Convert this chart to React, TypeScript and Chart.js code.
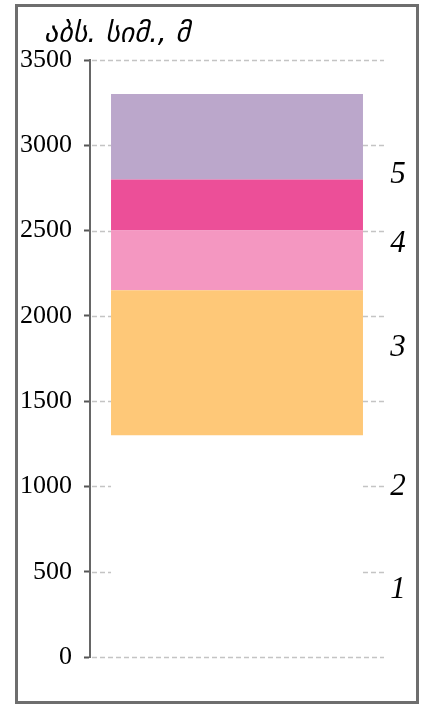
import React, { useEffect, useRef } from 'react';
import { Chart, registerables } from 'chart.js';

Chart.register(...registerables);

// ---- data ----
const categories = [''];
const layerNames = ['3', '4 (ქვედა)', '4 (ზედა)', '5'];
const layerStarts = [1300, 2150, 2500, 2800];
const layerEnds = [2150, 2500, 2800, 3300];
const layerColors = ['#fec878', '#f497c1', '#ec4f98', '#bba7cb'];
const yMin = 0;
const yMax = 3500;
const yStep = 500;
const zoneLabels = ['1', '2', '3', '4', '5'];
const zoneLabelValues = [395, 1000, 1810, 2425, 2825];
const axisTitle = 'აბს. სიმ., მ';

const gridStubs = {
  id: 'gridStubs',
  beforeDatasetsDraw(chart: any) {
    const { ctx, chartArea, scales } = chart;
    const y = scales.y;
    const meta = chart.getDatasetMeta(0);
    const el = meta.data[0];
    const { x, width } = el.getProps(['x', 'width'], true);
    const bl = x - width / 2;
    const br = x + width / 2;
    ctx.save();
    ctx.setLineDash([5, 3]);
    ctx.strokeStyle = '#c4c4c4';
    ctx.lineWidth = 1.5;
    y.ticks.forEach((t: any, i: number) => {
      const py = Math.round(y.getPixelForValue(t.value)) + 0.5;
      ctx.beginPath();
      if (i === 0 || i === y.ticks.length - 1) {
        ctx.moveTo(chartArea.left + 2, py);
        ctx.lineTo(chartArea.right, py);
      } else {
        ctx.moveTo(chartArea.left + 2, py);
        ctx.lineTo(bl, py);
        ctx.moveTo(br, py);
        ctx.lineTo(chartArea.right, py);
      }
      ctx.stroke();
    });
    ctx.restore();
  },
};

const textLabels = {
  id: 'textLabels',
  afterDraw(chart: any) {
    const { ctx, chartArea, scales } = chart;
    const y = scales.y;
    ctx.save();
    ctx.fillStyle = '#000';
    ctx.font = 'italic 31px "Liberation Serif", serif';
    ctx.textAlign = 'center';
    ctx.textBaseline = 'middle';
    zoneLabels.forEach((lab, i) => {
      ctx.fillText(lab, chartArea.right + 14, y.getPixelForValue(zoneLabelValues[i]));
    });
    ctx.font = 'oblique 28px "DejaVu Sans", sans-serif';
    ctx.textAlign = 'left';
    ctx.textBaseline = 'alphabetic';
    ctx.fillText(axisTitle, 44, 42);
    ctx.restore();
  },
};

export default function App() {
  const ref = useRef<HTMLCanvasElement>(null);
  useEffect(() => {
    if (!ref.current) return;
    const chart = new Chart(ref.current, {
      type: 'bar',
      data: {
        labels: categories,
        datasets: layerStarts.map((s, i) => ({
          label: layerNames[i],
          data: [[s, layerEnds[i]]] as any,
          backgroundColor: layerColors[i],
          borderWidth: 0,
          borderSkipped: false,
          grouped: false,
          barPercentage: 0.857,
          categoryPercentage: 1,
        })),
      },
      options: {
        responsive: false,
        animation: false,
        devicePixelRatio: 1,
        layout: { padding: { left: 0, right: 41, top: 60, bottom: 47 } },
        plugins: {
          legend: { display: false },
          tooltip: { enabled: false },
          title: { display: false },
        },
        scales: {
          x: { display: false },
          y: {
            min: yMin,
            max: yMax,
            afterFit: (scale: any) => {
              scale.width = 90;
            },
            ticks: {
              stepSize: yStep,
              padding: 12,
              color: '#000',
              font: { family: '"Liberation Serif", serif', size: 26 },
              callback: (v: any) => String(v),
            },
            grid: {
              display: true,
              drawOnChartArea: false,
              drawTicks: true,
              tickLength: 6,
              tickColor: '#555',
              tickWidth: 2,
            },
            border: { display: true, color: '#666', width: 2 },
          },
        },
      },
      plugins: [gridStubs, textLabels],
    });
    return () => chart.destroy();
  }, []);
  return (
    <div style={{ position: 'fixed', left: 0, top: 0, width: 425, height: 704, background: '#fff' }}>
      <canvas ref={ref} width={425} height={704} style={{ position: 'absolute', left: 0, top: 0 }} />
      <div
        style={{
          position: 'absolute',
          left: 15,
          top: 4,
          width: 404,
          height: 700,
          boxSizing: 'border-box',
          border: '3px solid #6e6e6e',
          pointerEvents: 'none',
        }}
      />
    </div>
  );
}
